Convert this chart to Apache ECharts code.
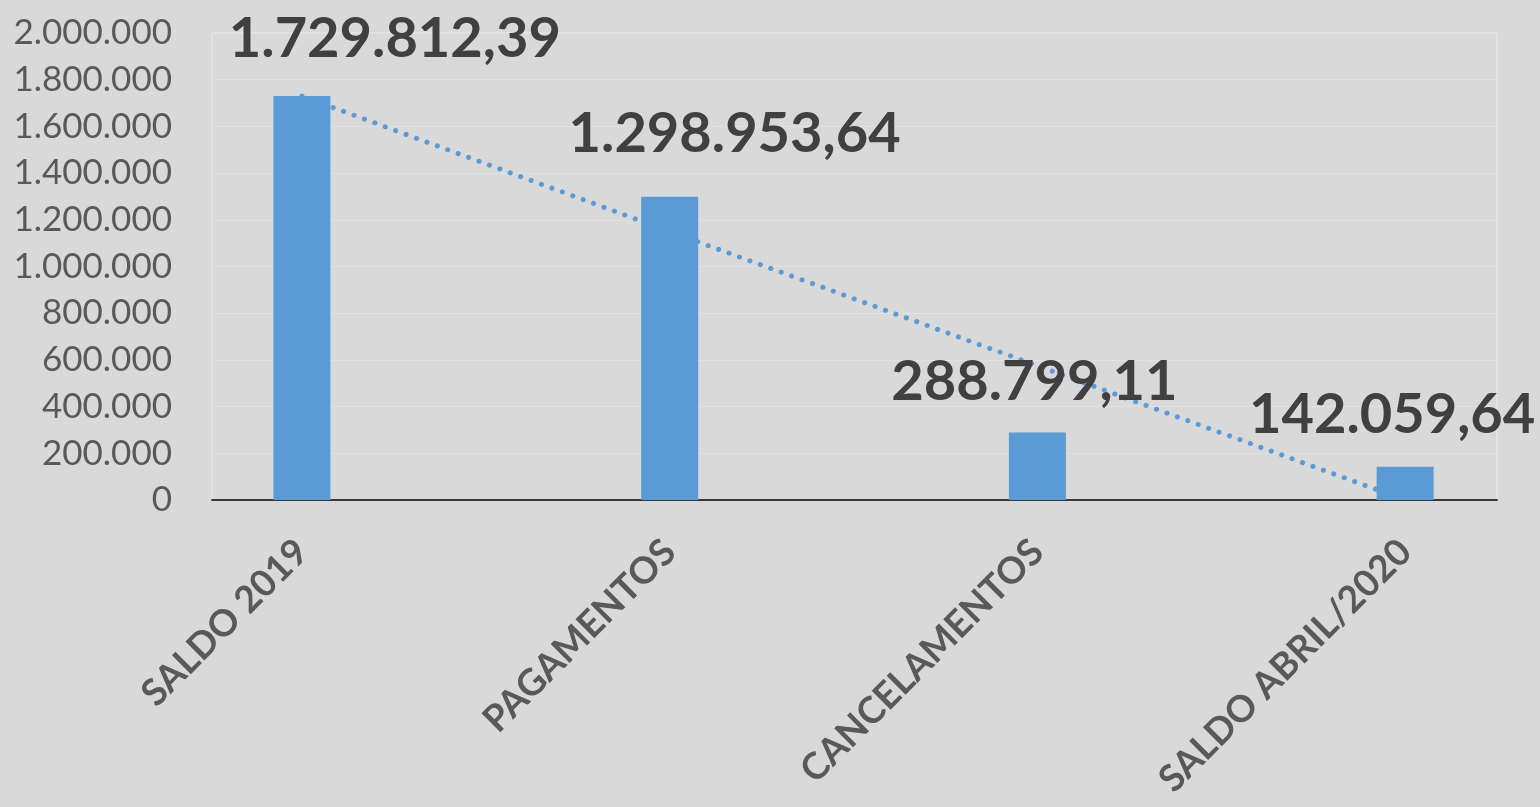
<!DOCTYPE html>
<html>
<head>
<meta charset="utf-8">
<title>Saldo</title>
<script src="https://cdn.jsdelivr.net/npm/echarts@6/dist/echarts.min.js"></script>
<style>
  html, body { margin: 0; padding: 0; background: #d9d9d9; }
  #main { width: 1540px; height: 807px; }
</style>
</head>
<body>
<div id="main"></div>
<script>
// categorias e valores
var categorias = ['SALDO 2019', 'PAGAMENTOS', 'CANCELAMENTOS', 'SALDO ABRIL/2020'];
var valores = [1729812.39, 1298953.64, 288799.11, 142059.64];
// linha de tendência
var tendencia = [1730000, 1150000, 575000, 0];
// deslocamento dos rótulos (posicionados à mão no original)
var rotuloDx = [93, 65, -3, -13];
var rotuloDy = [-60, -66, -54, -55];

// formato pt-BR: 1.234.567,89
function fmt(v, dec) {
  var s = v.toFixed(dec);
  var partes = s.split('.');
  var inteiro = partes[0].replace(/\B(?=(\d{3})+(?!\d))/g, '.');
  return dec > 0 ? inteiro + ',' + partes[1] : inteiro;
}

var chart = echarts.init(document.getElementById('main'));
var option = {
  backgroundColor: '#d9d9d9',
  animation: false,
  grid: [
    // moldura da área de plotagem
    { left: 212, right: 43, top: 33, bottom: 307, show: true, borderColor: '#ebebeb', borderWidth: 1,
      outerBoundsMode: 'none' },
    // área dos dados (categorias mais largas que a moldura, como no Excel)
    { left: 118, right: -49, top: 33, bottom: 307, outerBoundsMode: 'none' }
  ],
  xAxis: [
    {
      gridIndex: 0,
      type: 'category',
      data: categorias,
      axisLine: { lineStyle: { color: '#3a3a3a', width: 2 } },
      axisTick: { show: false },
      axisLabel: { show: false }
    },
    {
      gridIndex: 1,
      type: 'category',
      data: categorias,
      axisLine: { show: false },
      axisTick: { show: false },
      axisLabel: {
        rotate: 45, interval: 0, margin: 46,
        fontFamily: 'Lato', fontSize: 37, fontWeight: 'bold', color: '#595959'
      }
    }
  ],
  yAxis: [
    {
      gridIndex: 0,
      type: 'value',
      min: 0, max: 2000000, interval: 200000,
      axisLine: { show: false },
      axisTick: { show: false },
      splitLine: { lineStyle: { color: '#e1e1e1', width: 1 } },
      axisLabel: {
        margin: 40,
        fontFamily: 'Lato', fontSize: 35, color: '#595959',
        formatter: function (v) { return fmt(v, 0); }
      }
    },
    {
      gridIndex: 1,
      type: 'value',
      min: 0, max: 2000000, interval: 200000,
      show: false
    }
  ],
  series: [
    {
      name: 'Tendência',
      type: 'line',
      xAxisIndex: 1, yAxisIndex: 1,
      data: tendencia,
      z: 1,
      symbol: 'none',
      lineStyle: { color: '#5b9bd5', width: 5, type: [0.1, 11], cap: 'round' }
    },
    {
      name: 'Valores',
      type: 'bar',
      xAxisIndex: 1, yAxisIndex: 1,
      z: 2,
      barWidth: 57,
      data: valores.map(function (v, i) {
        return {
          value: v,
          label: { offset: [rotuloDx[i], rotuloDy[i] + 36] }
        };
      }),
      itemStyle: { color: '#5b9bd5' },
      label: {
        show: true,
        position: 'top',
        fontFamily: 'Lato', fontSize: 56, fontWeight: 'bold', color: '#404040',
        formatter: function (p) { return fmt(p.value, 2); }
      }
    }
  ]
};
chart.setOption(option);
window.addEventListener('resize', function () { chart.resize(); });
</script>
</body>
</html>
